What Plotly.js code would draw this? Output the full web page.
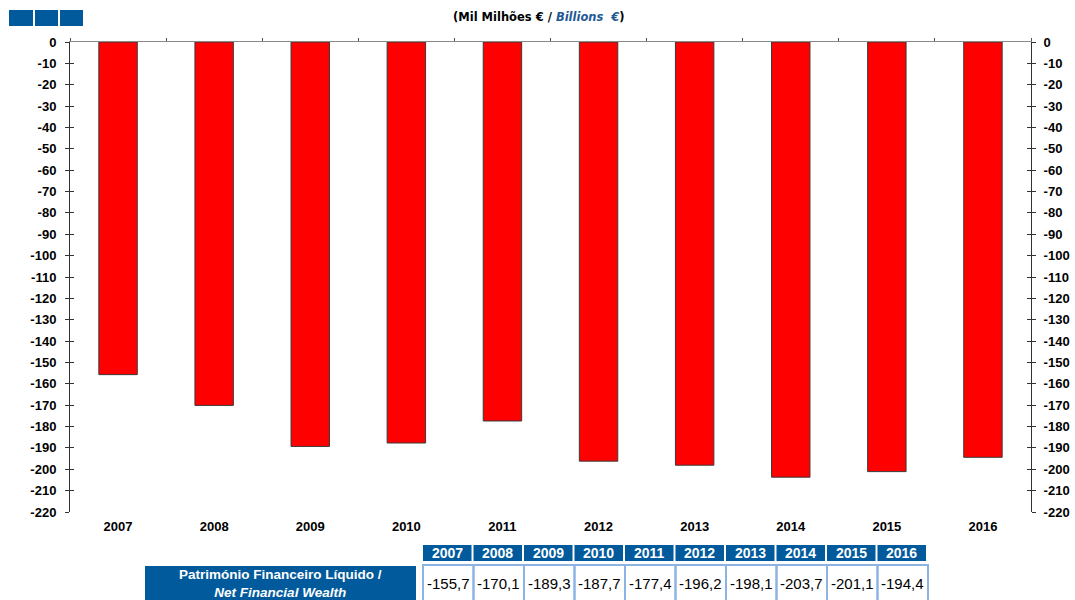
<!DOCTYPE html>
<html>
<head>
<meta charset="utf-8">
<script src="https://cdn.plot.ly/plotly-3.0.1.min.js"></script>
<style>html,body{margin:0;padding:0;background:#fff;}#chart{width:1075px;height:600px;}</style>
</head>
<body>
<div id="chart"></div>
<script>
// ---- data ----
const years = ['2007','2008','2009','2010','2011','2012','2013','2014','2015','2016'];
const netFinancialWealth = [-155.7, -170.1, -189.3, -187.7, -177.4, -196.2, -198.1, -203.7, -201.1, -194.4];
const yTickVals = [0, -10, -20, -30, -40, -50, -60, -70, -80, -90, -100, -110, -120, -130, -140, -150, -160, -170, -180, -190, -200, -210, -220];
const yTickText = ['0','-10','-20','-30','-40','-50','-60','-70','-80','-90','-100','-110','-120','-130','-140','-150','-160','-170','-180','-190','-200','-210','-220'];
const seriesLabelPt = 'Património Financeiro Líquido /';
const seriesLabelEn = 'Net Financial Wealth';
const titlePt = '(Mil Milhões € / ';
const titleEn = 'Billions  €';

// ---- layout helpers (pixels -> paper) ----
const W = 1075, H = 600;
const px = x => x / W;
const py = y => 1 - y / H;
const BLUE = '#005A9C';
const LIGHTBLUE = '#8DB3E2';
const FONT = 'Liberation Sans, Arial, sans-serif';

const plotL = 70, plotR = 1031, plotT = 42, plotB = 512;

const traces = [
  {type:'bar', x: years, y: netFinancialWealth, xaxis:'x', yaxis:'y',
   marker:{color:'#FF0000', line:{color:'#3a3a3a', width:1}}, hoverinfo:'x+y'},
  // invisible helpers so overlay axes are drawn
  {type:'bar', x: years, y: netFinancialWealth, xaxis:'x2', yaxis:'y2', opacity:0, hoverinfo:'skip', marker:{color:'rgba(0,0,0,0)'}},
  {type:'bar', x: years, y: netFinancialWealth, xaxis:'x', yaxis:'y3', opacity:0, hoverinfo:'skip', marker:{color:'rgba(0,0,0,0)'}},
  {type:'bar', x: years, y: netFinancialWealth, xaxis:'x', yaxis:'y4', opacity:0, hoverinfo:'skip', marker:{color:'rgba(0,0,0,0)'}}
];

const yBase = {
  range:[-220, 0], tickmode:'array', tickvals:yTickVals, ticktext:yTickText, showgrid:false, zeroline:false,
  domain:[1 - plotB/H, 1 - plotT/H], fixedrange:true
};

const shapes = [];
const annotations = [];

// top-left squares
[[9,33],[35,58],[60,83]].forEach(s => shapes.push({type:'rect', xref:'paper', yref:'paper',
  x0:px(s[0]), x1:px(s[1]), y0:py(26), y1:py(10), fillcolor:BLUE, line:{width:0}}));

// title
annotations.push({xref:'paper', yref:'paper', x:px(539), y:py(17), xanchor:'center', yanchor:'middle', showarrow:false,
  text:'<b>' + titlePt + '</b><b><i><span style="color:#1F5A96">' + titleEn + '</span></i></b><b>)</b>',
  font:{family:'DejaVu Sans, Verdana, sans-serif', size:11.5, color:'#000'}});

// table header
const cellX0 = 423, cellW = 50.5;
years.forEach((yr, i) => {
  const x0 = cellX0 + i*cellW;
  shapes.push({type:'rect', xref:'paper', yref:'paper', x0:px(x0), x1:px(x0+cellW-2), y0:py(561), y1:py(545),
    fillcolor:BLUE, line:{width:0}});
  annotations.push({xref:'paper', yref:'paper', x:px(x0+(cellW-2)/2), y:py(553), xanchor:'center', yanchor:'middle',
    showarrow:false, text:'<b>'+yr+'</b>', font:{family:FONT, size:14, color:'#fff'}});
});
// label box
shapes.push({type:'rect', xref:'paper', yref:'paper', x0:px(145), x1:px(416), y0:py(603), y1:py(566),
  fillcolor:BLUE, line:{width:0}});
annotations.push({xref:'paper', yref:'paper', x:px(280), y:py(583), xanchor:'center', yanchor:'middle', showarrow:false,
  text:'<b>'+seriesLabelPt+'</b><br><b><i>'+seriesLabelEn+'</i></b>', font:{family:FONT, size:13.5, color:'#fff'}});
// value cells
netFinancialWealth.forEach((v, i) => {
  const x0 = cellX0 + i*cellW;
  shapes.push({type:'rect', xref:'paper', yref:'paper', x0:px(x0), x1:px(x0+cellW), y0:py(605), y1:py(565),
    fillcolor:'rgba(0,0,0,0)', line:{color:LIGHTBLUE, width:2}});
  annotations.push({xref:'paper', yref:'paper', x:px(x0+cellW/2), y:py(583), xanchor:'center', yanchor:'middle',
    showarrow:false, text: v.toFixed(1).replace('.', ','), font:{family:FONT, size:15, color:'#000'}});
});

const tickFont = {family:FONT, size:13, color:'#000', weight:'bold'};

const layout = {
  width:W, height:H, margin:{l:0, r:0, t:0, b:0, autoexpand:false},
  paper_bgcolor:'#fff', plot_bgcolor:'#fff', showlegend:false, bargap:0.6,
  xaxis:{type:'category', domain:[px(plotL), px(plotR)], ticks:'', showline:false, showgrid:false, zeroline:false,
    tickfont:tickFont, ticklabelstandoff:5, anchor:'y', fixedrange:true},
  xaxis2:{type:'category', overlaying:'x', side:'top', domain:[px(plotL), px(plotR)], anchor:'y',
    showline:true, linecolor:'#8a8a8a', linewidth:1.5, ticks:'outside', ticklen:3, tickcolor:'#555',
    tickson:'boundaries', showticklabels:false, showgrid:false, zeroline:false, fixedrange:true},
  yaxis:Object.assign({}, yBase, {anchor:'x', side:'left', showline:true, linecolor:'#333', linewidth:1,
    ticks:'outside', ticklen:4, tickcolor:'#333', tickfont:tickFont, ticklabelstandoff:6}),
  yaxis2:Object.assign({}, yBase, {anchor:'x', overlaying:'y', side:'right', showline:true, linecolor:'#333', linewidth:1,
    ticks:'outside', ticklen:4, tickcolor:'#333', tickfont:tickFont, ticklabelstandoff:5}),
  yaxis3:Object.assign({}, yBase, {anchor:'x', overlaying:'y', side:'left', showline:false,
    ticks:'inside', ticklen:4, tickcolor:'#333', showticklabels:false}),
  yaxis4:Object.assign({}, yBase, {anchor:'x', overlaying:'y', side:'right', showline:false,
    ticks:'inside', ticklen:4, tickcolor:'#333', showticklabels:false}),
  shapes:shapes, annotations:annotations
};

Plotly.newPlot('chart', traces, layout, {displayModeBar:false, staticPlot:true});
</script>
</body>
</html>
